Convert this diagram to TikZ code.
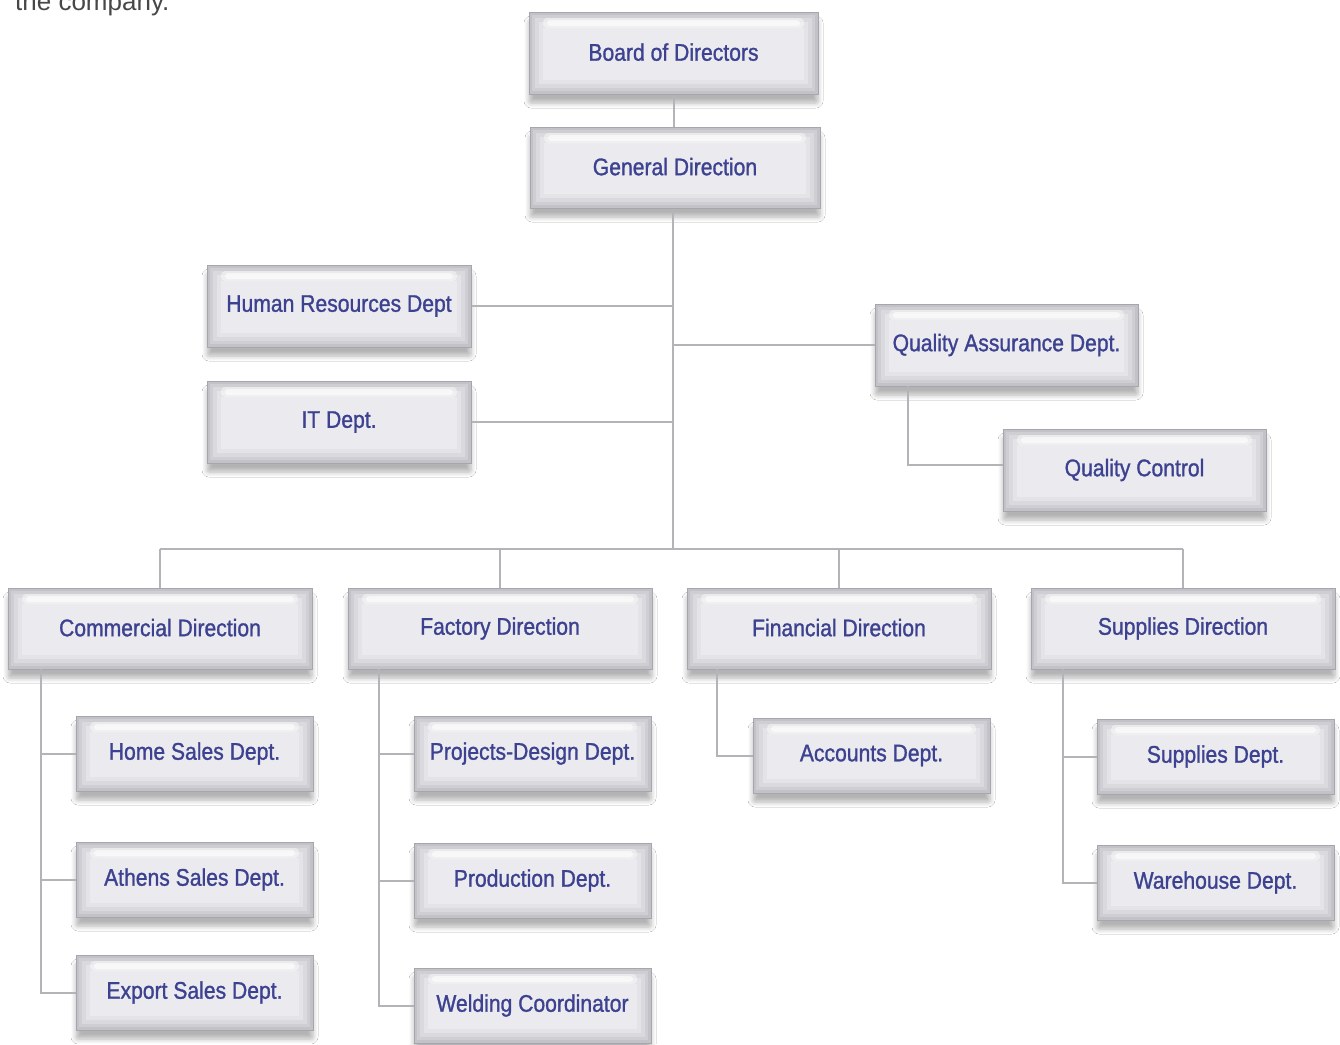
\documentclass[tikz,border=0pt]{standalone}
\usepackage{fontspec}
\setmainfont{Liberation Sans}
\newfontfamily\boxfont{Liberation Sans}[FakeStretch=0.88,FakeBold=1.2]
\usetikzlibrary{shadows.blur}
\definecolor{txtc}{HTML}{3D4290}
\definecolor{linec}{HTML}{B4B4B8}
\definecolor{bordc}{HTML}{A6A6AC}
\definecolor{l0}{HTML}{C2C2C8}
\definecolor{l1}{HTML}{CECED3}
\definecolor{l2}{HTML}{D9D9DE}
\definecolor{l3}{HTML}{E3E3E8}
\definecolor{l4}{HTML}{EBEBEF}
\definecolor{shadc}{HTML}{C8CAE6}
\tikzset{
  conn/.style={draw=linec, line width=2pt},
  obox/.style={draw=bordc, line width=1pt, fill=l0, inner sep=0pt,
    text=txtc, font=\boxfont\fontsize{24}{26}\selectfont,
    blur shadow={shadow xshift=0pt, shadow yshift=-9pt, shadow blur steps=6, shadow blur radius=5pt, shadow opacity=30, shadow scale=1, shadow blur extra rounding=2pt},
    path picture={
      \fill[l1] ([shift={(3pt,3pt)}]path picture bounding box.south west) rectangle ([shift={(-3pt,-3pt)}]path picture bounding box.north east);
      \fill[l2] ([shift={(6pt,6pt)}]path picture bounding box.south west) rectangle ([shift={(-6pt,-6pt)}]path picture bounding box.north east);
      \fill[l3] ([shift={(10pt,10pt)}]path picture bounding box.south west) rectangle ([shift={(-10pt,-10pt)}]path picture bounding box.north east);
      \fill[l4] ([shift={(14pt,14pt)}]path picture bounding box.south west) rectangle ([shift={(-14pt,-16pt)}]path picture bounding box.north east);
      \fill[white, opacity=0.45, rounded corners=4pt] ([shift={(14pt,-6pt)}]path picture bounding box.north west) rectangle ([shift={(-14pt,-16pt)}]path picture bounding box.north east);
      \fill[white, opacity=0.6, rounded corners=3pt] ([shift={(18pt,-8pt)}]path picture bounding box.north west) rectangle ([shift={(-18pt,-14pt)}]path picture bounding box.north east);
    }}
}
\newcommand\orgbox[6]{%
  \node[obox, minimum width={(#4-#2)*1pt}, minimum height={(#5-#3)*1pt}] (#1) at ({(#2+#4)/2},{(#3+#5)/2}) {\raisebox{2pt}{#6}};}
\begin{document}
\begin{tikzpicture}[x=1pt,y=-1pt]
\useasboundingbox (0,0) rectangle (1340,1044);
\fill[white] (0,0) rectangle (1340,1044);
\node[anchor=base west, inner sep=0pt, text=black!72, font=\fontsize{26}{28}\selectfont] (cap) at (15,10) {the company.};

\coordinate (busL) at (160,549);
\coordinate (busR) at (1183,549);
\coordinate (trunk) at (673,549);

\orgbox{bod}{529}{12}{818}{94}{Board of Directors}
\orgbox{gd}{530}{127}{820}{208}{General Direction}
\orgbox{hr}{207}{265}{471}{347}{Human Resources Dept}
\orgbox{it}{207}{381}{471}{463}{IT Dept.}
\orgbox{qa}{875}{304}{1138}{386}{Quality Assurance Dept.}
\orgbox{qc}{1003}{429}{1266}{511}{Quality Control}
\orgbox{cd}{8}{588}{312}{669}{Commercial Direction}
\orgbox{fd}{348}{588}{652}{669}{Factory Direction}
\orgbox{fin}{687}{588}{991}{669}{Financial Direction}
\orgbox{sd}{1031}{588}{1335}{669}{Supplies Direction}
\orgbox{hsd}{76}{716}{313}{791}{Home Sales Dept.}
\orgbox{asd}{76}{842}{313}{917}{Athens Sales Dept.}
\orgbox{esd}{76}{955}{313}{1030}{Export Sales Dept.}
\orgbox{pdd}{414}{716}{651}{791}{Projects-Design Dept.}
\orgbox{prd}{414}{843}{651}{918}{Production Dept.}
\orgbox{wc}{414}{968}{651}{1043}{Welding Coordinator}
\orgbox{acc}{753}{718}{990}{793}{Accounts Dept.}
\orgbox{sud}{1097}{719}{1334}{794}{Supplies Dept.}
\orgbox{whd}{1097}{845}{1334}{920}{Warehouse Dept.}

\draw[conn] (bod.south) -- (gd.north -| bod.south);
\draw[conn] (gd.south -| trunk) -- (trunk);
\draw[conn] (hr.east) -- (hr.east -| trunk);
\draw[conn] (it.east) -- (it.east -| trunk);
\draw[conn] (qa.west) -- (qa.west -| trunk);
\coordinate (qaj) at (908,386);
\draw[conn] (qaj) |- ([yshift=5pt]qc.west);
\draw[conn] (busL) -- (busR);
\draw[conn] (cd.north) -- (cd.north |- busL);
\draw[conn] (fd.north) -- (fd.north |- busL);
\draw[conn] (fin.north) -- (fin.north |- busL);
\draw[conn] (sd.north) -- (sd.north |- busL);
\coordinate (cdv) at (41,669);
\draw[conn] (cdv) |- (esd.west);
\draw[conn] (cdv |- hsd.west) -- (hsd.west);
\draw[conn] (cdv |- asd.west) -- (asd.west);
\coordinate (fdv) at (379,669);
\draw[conn] (fdv) |- (wc.west);
\draw[conn] (fdv |- pdd.west) -- (pdd.west);
\draw[conn] (fdv |- prd.west) -- (prd.west);
\coordinate (finv) at (717,669);
\draw[conn] (finv) |- (acc.west);
\coordinate (sdv) at (1063,669);
\draw[conn] (sdv) |- (whd.west);
\draw[conn] (sdv |- sud.west) -- (sud.west);
\end{tikzpicture}
\end{document}
